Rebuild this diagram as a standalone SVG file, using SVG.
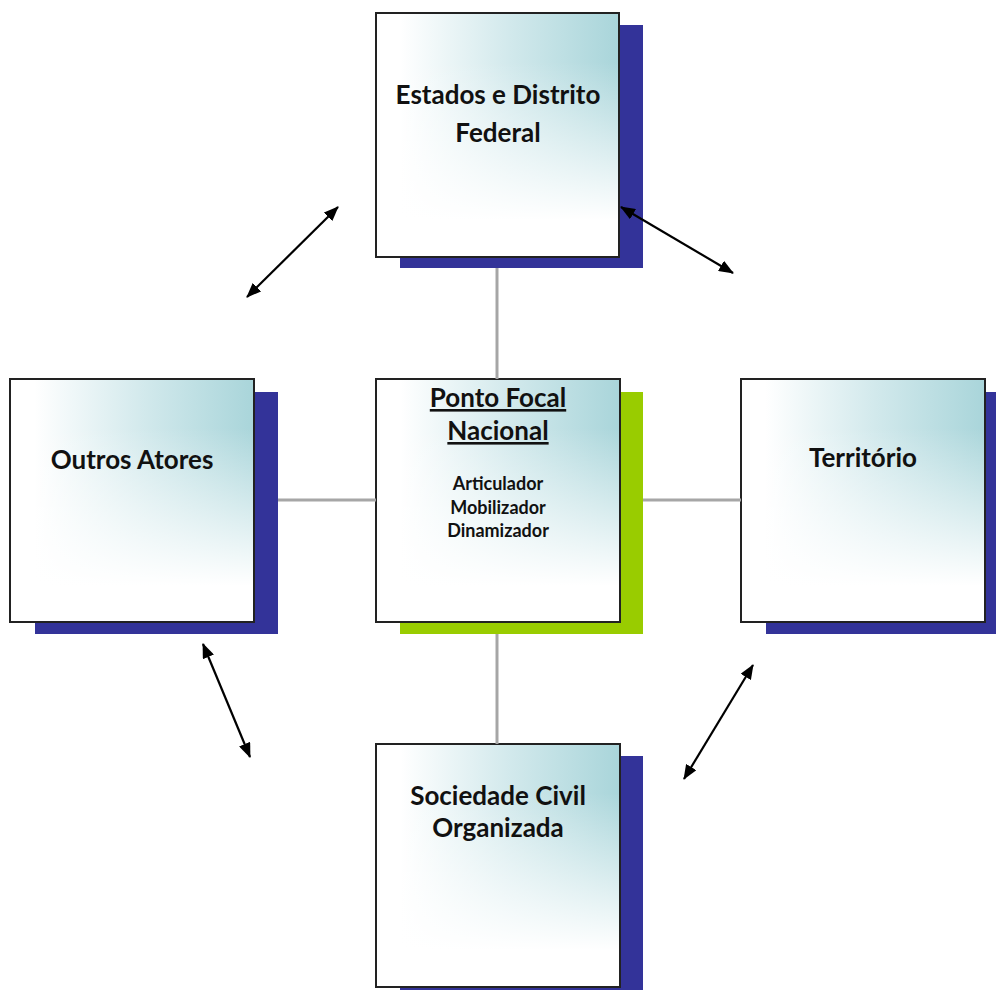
<svg xmlns="http://www.w3.org/2000/svg" width="996" height="990" viewBox="0 0 996 990">
<defs>
<linearGradient id="hgrad" x1="0" y1="0" x2="1" y2="0">
<stop offset="0" stop-color="#ffffff"/>
<stop offset="0.1" stop-color="#ffffff"/>
<stop offset="0.55" stop-color="#d2e9ec"/>
<stop offset="1" stop-color="#a9d5da"/>
</linearGradient>
<linearGradient id="vfade" x1="0" y1="0" x2="0" y2="1">
<stop offset="0.2" stop-color="#ffffff" stop-opacity="0"/>
<stop offset="0.85" stop-color="#ffffff" stop-opacity="1"/>
</linearGradient>
<marker id="ah" viewBox="0 0 15 12" refX="14" refY="6" markerWidth="15" markerHeight="12" markerUnits="userSpaceOnUse" orient="auto-start-reverse">
<path d="M0,0 L15,6 L0,12 z" fill="#000"/>
</marker>
</defs>
<style>
.shadow{fill:#333399;}
.shadowg{fill:#99cc00;}
.fillh{fill:url(#hgrad);}
.fillv{fill:url(#vfade);}
.frame{fill:none;stroke:#222;stroke-width:2;}
.t{font-family:"Lato","Open Sans","Liberation Sans",sans-serif;font-weight:700;fill:#111;text-anchor:middle;}
.big{font-size:26px;}
.small{font-size:18px;}
.u{text-decoration:underline;}
.link{stroke:#a6a6a6;stroke-width:3;fill:none;}
.arrow{stroke:#000;stroke-width:2.2;fill:none;marker-start:url(#ah);marker-end:url(#ah);}
</style>
<rect width="996" height="990" fill="#fff"/>
<g id="estados">
<rect class="shadow" x="400" y="25" width="243" height="243"/>
<rect class="fillh" x="376" y="13" width="243" height="244"/>
<rect class="fillv" x="376" y="13" width="243" height="244"/>
<rect class="frame" x="376" y="13" width="243" height="244"/>
<text class="t big" x="498" y="104">Estados e Distrito</text>
<text class="t big" x="498" y="142">Federal</text>
</g>
<g id="ponto-focal">
<rect class="shadowg" x="400" y="392" width="243" height="242"/>
<rect class="fillh" x="376" y="379" width="244" height="243"/>
<rect class="fillv" x="376" y="379" width="244" height="243"/>
<rect class="frame" x="376" y="379" width="244" height="243"/>
<text class="t big u" x="498" y="407">Ponto Focal</text>
<text class="t big u" x="498" y="440">Nacional</text>
<text class="t small" x="498" y="490">Articulador</text>
<text class="t small" x="498" y="514">Mobilizador</text>
<text class="t small" x="498" y="537">Dinamizador</text>
</g>
<g id="outros-atores">
<rect class="shadow" x="35" y="392" width="243" height="242"/>
<rect class="fillh" x="10" y="379" width="244" height="243"/>
<rect class="fillv" x="10" y="379" width="244" height="243"/>
<rect class="frame" x="10" y="379" width="244" height="243"/>
<text class="t big" x="132" y="469">Outros Atores</text>
</g>
<g id="territorio">
<rect class="shadow" x="766" y="392" width="243" height="242"/>
<rect class="fillh" x="741" y="379" width="244" height="243"/>
<rect class="fillv" x="741" y="379" width="244" height="243"/>
<rect class="frame" x="741" y="379" width="244" height="243"/>
<text class="t big" x="863" y="467">Território</text>
</g>
<g id="sociedade-civil">
<rect class="shadow" x="400" y="756" width="243" height="243"/>
<rect class="fillh" x="376" y="744" width="244" height="243"/>
<rect class="fillv" x="376" y="744" width="244" height="243"/>
<rect class="frame" x="376" y="744" width="244" height="243"/>
<text class="t big" x="498" y="805">Sociedade Civil</text>
<text class="t big" x="498" y="837">Organizada</text>
</g>
<g id="connectors">
<line class="link" x1="497" y1="268" x2="497" y2="379"/>
<line class="link" x1="497" y1="634" x2="497" y2="744"/>
<line class="link" x1="278" y1="500" x2="376" y2="500"/>
<line class="link" x1="643" y1="500" x2="741" y2="500"/>
<line class="arrow" x1="338" y1="207" x2="247" y2="297"/>
<line class="arrow" x1="621" y1="207" x2="733" y2="273"/>
<line class="arrow" x1="203" y1="644" x2="250" y2="757"/>
<line class="arrow" x1="753" y1="665" x2="684" y2="779"/>
</g>
</svg>
